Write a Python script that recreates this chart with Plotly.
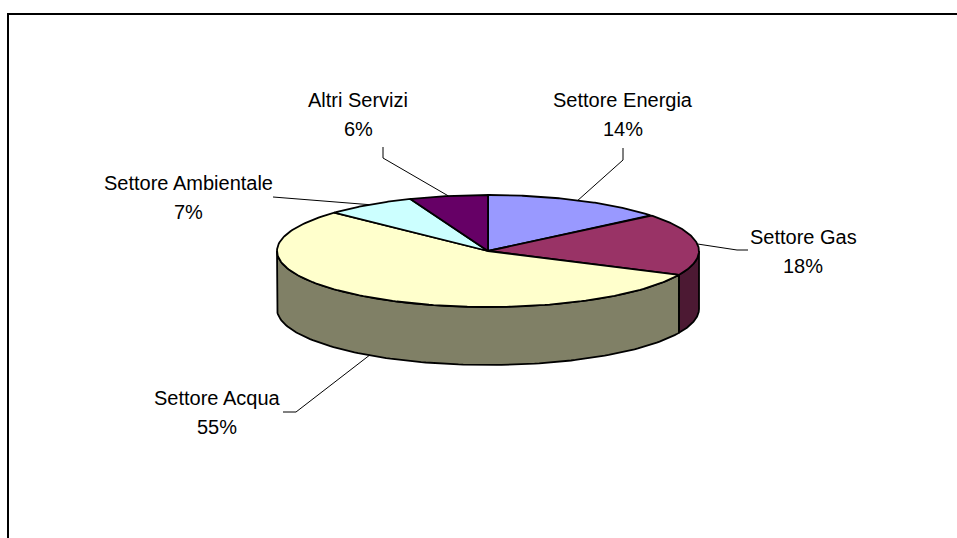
import numpy as np
import plotly.graph_objects as go

# 資料
labels = ['Settore Energia', 'Settore Gas', 'Settore Acqua', 'Settore Ambientale', 'Altri Servizi']
values = [14, 18, 55, 7, 6]
top_colors = ['#9999FF', '#993366', '#FFFFCC', '#CCFFFF', '#660066']
side_colors = ['#4C1933', '#4C1933', '#808066', '#668080', '#330033']

# posizione delle etichette (centro della riga del nome) e gomito della linea guida
label_pos = [(623, 100), (803, 237), (217, 398), (188, 183), (358, 100)]
leader_elbow = [[(623, 160), (623, 148)],
                [(737, 250), (748, 250)],
                [(296, 412), (283, 412)],
                [(273, 197)],
                [(383, 158), (383, 147)]]

# geometria della torta 3D (pixel)
cx, cy = 488, 251
rx, ry = 211, 56
depth = 58

W, H = 957, 538


def ell(theta, dy=0.0):
    t = np.radians(theta)
    return cx + rx * np.sin(t), cy - ry * np.cos(t) + dy


total = float(sum(values))
starts = np.concatenate([[0], np.cumsum(values)[:-1]]) / total * 360
ends = np.cumsum(values) / total * 360

fig = go.Figure()

# lati (solo la metà frontale è visibile)
for a, b, col in zip(starts, ends, side_colors):
    a2, b2 = max(a, 90), min(b, 270)
    if a2 >= b2:
        continue
    th = np.linspace(a2, b2, 120)
    xt, yt = ell(th)
    xb, yb = ell(th[::-1], depth)
    xs = np.concatenate([xt, xb, xt[:1]])
    ys = np.concatenate([yt, yb, yt[:1]])
    fig.add_trace(go.Scatter(x=xs, y=ys, mode='lines', fill='toself', fillcolor=col,
                             line=dict(color='black', width=1.8), hoverinfo='skip', showlegend=False))

# spicchi superiori
for a, b, col, name in zip(starts, ends, top_colors, labels):
    th = np.linspace(a, b, 150)
    xt, yt = ell(th)
    xs = np.concatenate([[cx], xt, [cx]])
    ys = np.concatenate([[cy], yt, [cy]])
    fig.add_trace(go.Scatter(x=xs, y=ys, mode='lines', fill='toself', fillcolor=col,
                             line=dict(color='black', width=1.8), name=name,
                             hoverinfo='name', showlegend=False))

# linee guida + etichette
for i, (name, v) in enumerate(zip(labels, values)):
    mid = (starts[i] + ends[i]) / 2
    dy = depth if 90 < mid < 270 else 0
    px, py = ell(mid, dy)
    pts = [(px, py)] + leader_elbow[i]
    fig.add_trace(go.Scatter(x=[p[0] for p in pts], y=[p[1] for p in pts], mode='lines',
                             line=dict(color='black', width=1), hoverinfo='skip', showlegend=False))
    tx, ty = label_pos[i]
    fig.add_annotation(x=tx, y=ty, text=name, showarrow=False, xanchor='center', yanchor='middle',
                       font=dict(family='Liberation Sans, Arial', size=20, color='black'))
    fig.add_annotation(x=tx, y=ty + 29, text=f'{round(v / total * 100)}%', showarrow=False,
                       xanchor='center', yanchor='middle',
                       font=dict(family='Liberation Sans, Arial', size=20, color='black'))

# cornice
fig.add_shape(type='rect', x0=8, y0=14, x1=W + 40, y1=H + 40, line=dict(color='black', width=2))

fig.update_xaxes(range=[0, W], visible=False, fixedrange=True)
fig.update_yaxes(range=[H, 0], visible=False, fixedrange=True)
fig.update_layout(width=W, height=H, margin=dict(l=0, r=0, t=0, b=0),
                  plot_bgcolor='white', paper_bgcolor='white', showlegend=False)

fig.write_html('out.html', config={'displayModeBar': False},
               post_script="document.body.style.margin='0';document.body.style.overflow='hidden';")
